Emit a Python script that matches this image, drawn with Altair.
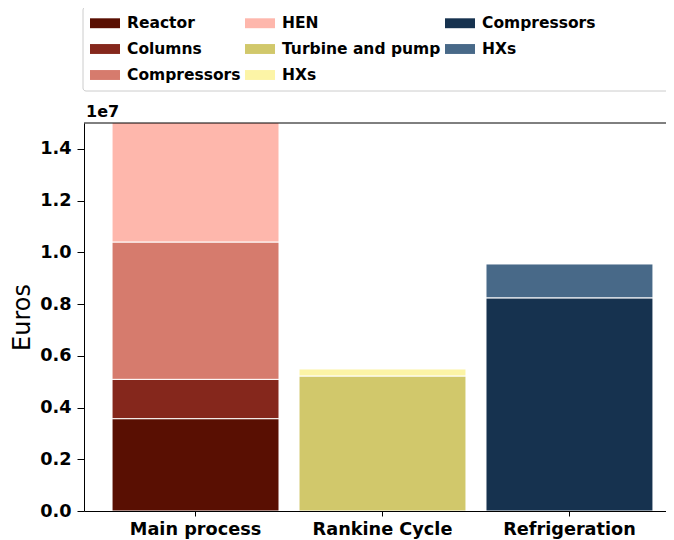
import altair as alt
import pandas as pd

# ---- data ----
categories = ["Main process", "Main process", "Main process", "Main process",
              "Rankine Cycle", "Rankine Cycle",
              "Refrigeration", "Refrigeration"]
keys = ["Reactor", "Columns", "Compressors_m", "HEN",
        "Turbine and pump", "HXs_r",
        "Compressors_f", "HXs_f"]
labels = ["Reactor", "Columns", "Compressors", "HEN",
          "Turbine and pump", "HXs", "Compressors", "HXs"]
values = [3.57e6, 1.52e6, 5.31e6, 4.8e6,
          5.22e6, 0.27e6,
          8.24e6, 1.31e6]
stack_order = [0, 1, 2, 3, 0, 1, 0, 1]
colors = ["#590f02", "#85271c", "#d67b6d", "#feb7ac",
          "#d1c86b", "#fcf4a6", "#16324f", "#486988"]
x_order = ["Main process", "Rankine Cycle", "Refrigeration"]
y_ticks = [0, 2e6, 4e6, 6e6, 8e6, 1e7, 1.2e7, 1.4e7]

df = pd.DataFrame({"cat": categories, "key": keys, "label": labels,
                   "value": values, "ord": stack_order})

label_map = {k: l for k, l in zip(keys, labels)}
label_expr = "{" + ",".join(f"'{k}':'{v}'" for k, v in label_map.items()) + "}[datum.value]"

FONT = "DejaVu Sans"
W, H = 582, 388

bars = alt.Chart(df).mark_bar(stroke="white", strokeWidth=1, clip=True).encode(
    x=alt.X("cat:N", sort=x_order,
            scale=alt.Scale(range=[0, 597], paddingInner=0.107, paddingOuter=0.15),
            axis=alt.Axis(title=None, labelAngle=0, labelFont=FONT, labelFontWeight="bold",
                          labelFontSize=17.7, labelColor="black", tickColor="black",
                          tickSize=5, labelPadding=4, domainColor="black")),
    y=alt.Y("value:Q", stack="zero",
            scale=alt.Scale(domain=[0, 1.5e7], nice=False),
            axis=alt.Axis(title="Euros", titleFont=FONT, titleFontSize=24,
                          titleFontWeight="normal", titleColor="black", titlePadding=5,
                          values=y_ticks, labelExpr="format(datum.value/1e7, '.1f')",
                          labelFont=FONT, labelFontWeight="bold", labelFontSize=17.7,
                          labelColor="black", tickColor="black", tickSize=7,
                          labelPadding=6, grid=False, domainColor="black")),
    color=alt.Color("key:N",
                    scale=alt.Scale(domain=keys, range=colors),
                    legend=alt.Legend(title=None, orient="none", legendX=6, legendY=-115,
                                      columns=3, columnPadding=4, rowPadding=2,
                                      symbolType="M-1,-0.33L1,-0.33L1,0.33L-1,0.33Z",
                                      symbolSize=900, symbolStrokeWidth=0,
                                      labelFont=FONT, labelFontWeight="bold",
                                      labelFontSize=15.5, labelColor="black",
                                      labelOffset=7, labelLimit=300,
                                      labelExpr=label_expr)),
    order=alt.Order("ord:Q"),
)

frame = alt.Chart(pd.DataFrame({"a": [0]})).mark_rect(
    fill="white", fillOpacity=0, stroke="#cccccc", strokeWidth=1, cornerRadius=3
).encode(x=alt.value(-1), x2=alt.value(700), y=alt.value(-116), y2=alt.value(-32))

top_spine = alt.Chart(pd.DataFrame({"a": [0]})).mark_rule(
    color="black", strokeWidth=1
).encode(x=alt.value(0), x2=alt.value(700), y=alt.value(0))

exp_text = alt.Chart(pd.DataFrame({"t": ["1e7"]})).mark_text(
    align="left", baseline="alphabetic", font=FONT, fontWeight="bold", fontSize=16,
    color="black"
).encode(x=alt.value(2), y=alt.value(-6), text="t:N")

chart = alt.layer(frame, bars, top_spine, exp_text).properties(
    width=W, height=H,
    autosize=alt.AutoSizeParams(type="none"),
    padding={"left": 76, "top": 115, "right": 0, "bottom": 32},
).configure_view(stroke=None)

chart.save("out.html", embed_options={"renderer": "svg", "actions": False})
